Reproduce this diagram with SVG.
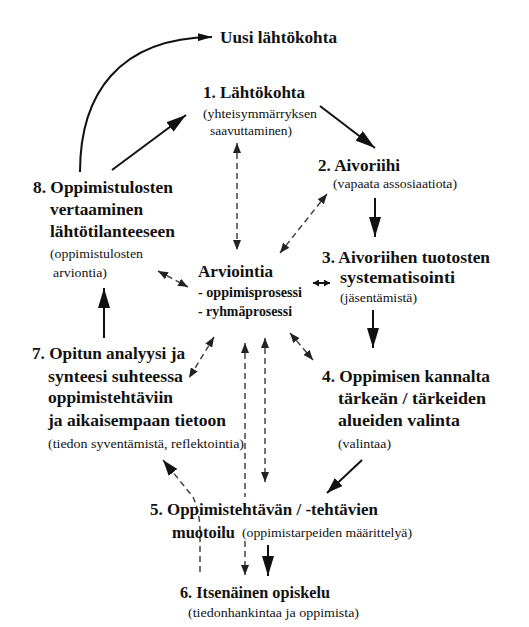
<svg xmlns="http://www.w3.org/2000/svg" width="529" height="627" viewBox="0 0 529 627" font-family="'Liberation Serif', 'DejaVu Serif', serif">
<defs>
<style>
text{font-family:'Liberation Serif','DejaVu Serif',serif;fill:#111;}
.b{font-weight:bold;font-size:17px;}
.bs{font-weight:bold;font-size:14px;}
.r{font-size:13.5px;}
.sol{stroke:#111;stroke-width:2;fill:none;}
.dsh{stroke:#444;stroke-width:1.5;fill:none;stroke-dasharray:6 4;}
</style>
<marker id="big" markerUnits="userSpaceOnUse" markerWidth="20" markerHeight="12" refX="20" refY="6" orient="auto"><path d="M0,0 L20,6 L0,12 z" fill="#111"/></marker>
<marker id="med" markerUnits="userSpaceOnUse" markerWidth="16" markerHeight="11" refX="16" refY="5.5" orient="auto"><path d="M0,0 L16,5.5 L0,11 z" fill="#111"/></marker>
<marker id="sm" markerUnits="userSpaceOnUse" markerWidth="14" markerHeight="8" refX="14" refY="4" orient="auto"><path d="M0,0 L14,4 L0,8 z" fill="#111"/></marker>
<marker id="dh" markerUnits="userSpaceOnUse" markerWidth="10" markerHeight="8" refX="10" refY="4" orient="auto-start-reverse"><path d="M0,0 L10,4 L0,8 z" fill="#222"/></marker>
<marker id="tiny" markerUnits="userSpaceOnUse" markerWidth="6" markerHeight="7" refX="6" refY="3.5" orient="auto-start-reverse"><path d="M0,0 L6,3.5 L0,7 z" fill="#111"/></marker>
<marker id="dbig" markerUnits="userSpaceOnUse" markerWidth="16" markerHeight="11" refX="16" refY="5.5" orient="auto"><path d="M0,0 L16,5.5 L0,11 z" fill="#111"/></marker>
</defs>
<rect width="529" height="627" fill="#fff"/>
<g id="connectors">
<path class="sol" d="M80,172 C80,95 118,38 212,37" marker-end="url(#sm)"/>
<line class="sol" x1="112" y1="170" x2="186" y2="115" marker-end="url(#big)"/>
<line class="sol" x1="320" y1="106" x2="375" y2="148" marker-end="url(#big)"/>
<line class="sol" x1="375" y1="198" x2="375" y2="237" marker-end="url(#big)"/>
<line class="sol" x1="373" y1="310" x2="373" y2="348" marker-end="url(#big)"/>
<line class="sol" x1="362" y1="460" x2="327" y2="493" marker-end="url(#med)"/>
<line class="sol" x1="268" y1="545" x2="268" y2="576" stroke-width="3" marker-end="url(#big)"/>
<line class="sol" x1="104" y1="338" x2="104" y2="288" marker-end="url(#big)"/>
<line class="dsh" x1="237" y1="143" x2="237" y2="250" marker-start="url(#dh)" marker-end="url(#dh)"/>
<line class="dsh" x1="327" y1="194" x2="280" y2="253" marker-start="url(#dh)" marker-end="url(#dh)"/>
<line class="dsh" x1="158" y1="271" x2="188" y2="287" marker-start="url(#dh)" marker-end="url(#dh)"/>
<line class="sol" x1="313" y1="283" x2="330" y2="283" stroke-width="3" marker-start="url(#tiny)" marker-end="url(#tiny)"/>
<line class="dsh" x1="214" y1="337" x2="189" y2="378" marker-start="url(#dh)" marker-end="url(#dh)"/>
<line class="dsh" x1="290" y1="333" x2="313" y2="360" marker-start="url(#dh)" marker-end="url(#dh)"/>
<path class="dsh" d="M245,343 V497 M245,541 V575" marker-start="url(#dh)" marker-end="url(#dh)"/>
<line class="dsh" x1="265" y1="338" x2="265" y2="482" marker-start="url(#dh)" marker-end="url(#dh)"/>
<path class="dsh" d="M200,572 L200,528 Q199,510 193,497 L163,460" stroke="#111" marker-end="url(#dbig)"/>
</g>
<g id="node-uusi"><text class="b" x="220" y="43" textLength="117" lengthAdjust="spacingAndGlyphs">Uusi lähtökohta</text></g>
<g id="node-1">
<text class="b" x="203" y="98" textLength="102" lengthAdjust="spacingAndGlyphs">1. Lähtökohta</text>
<text class="r" x="203" y="118" textLength="114" lengthAdjust="spacingAndGlyphs">(yhteisymmärryksen</text>
<text class="r" x="210" y="135" textLength="82" lengthAdjust="spacingAndGlyphs">saavuttaminen)</text>
</g>
<g id="node-2">
<text class="b" x="318" y="171" textLength="82" lengthAdjust="spacingAndGlyphs">2. Aivoriihi</text>
<text class="r" x="333" y="188" textLength="124" lengthAdjust="spacingAndGlyphs">(vapaata assosiaatiota)</text>
</g>
<g id="node-3">
<text class="b" x="322" y="263" textLength="168" lengthAdjust="spacingAndGlyphs">3. Aivoriihen tuotosten</text>
<text class="b" x="340" y="283" textLength="115" lengthAdjust="spacingAndGlyphs">systematisointi</text>
<text class="r" x="340" y="302" textLength="77" lengthAdjust="spacingAndGlyphs">(jäsentämistä)</text>
</g>
<g id="node-4">
<text class="b" x="322" y="382" textLength="168" lengthAdjust="spacingAndGlyphs">4. Oppimisen kannalta</text>
<text class="b" x="338" y="404" textLength="148" lengthAdjust="spacingAndGlyphs">tärkeän  / tärkeiden</text>
<text class="b" x="338" y="426" textLength="122" lengthAdjust="spacingAndGlyphs">alueiden  valinta</text>
<text class="r" x="338" y="448" textLength="53" lengthAdjust="spacingAndGlyphs">(valintaa)</text>
</g>
<g id="node-5">
<text class="b" x="150" y="515" textLength="228" lengthAdjust="spacingAndGlyphs">5. Oppimistehtävän  / -tehtävien</text>
<text class="b" x="172" y="538" textLength="63" lengthAdjust="spacingAndGlyphs">muotoilu</text>
<text class="r" x="242" y="537" textLength="170" lengthAdjust="spacingAndGlyphs">(oppimistarpeiden määrittelyä)</text>
</g>
<g id="node-6">
<text class="b" x="180" y="598" textLength="150" lengthAdjust="spacingAndGlyphs">6. Itsenäinen opiskelu</text>
<text class="r" x="188" y="617" textLength="171" lengthAdjust="spacingAndGlyphs">(tiedonhankintaa ja oppimista)</text>
</g>
<g id="node-7">
<text class="b" x="32" y="359" textLength="153" lengthAdjust="spacingAndGlyphs">7. Opitun analyysi ja</text>
<text class="b" x="48" y="382" textLength="135" lengthAdjust="spacingAndGlyphs">synteesi  suhteessa</text>
<text class="b" x="48" y="403" textLength="125" lengthAdjust="spacingAndGlyphs">oppimistehtäviin</text>
<text class="b" x="48" y="426" textLength="178" lengthAdjust="spacingAndGlyphs">ja aikaisempaan tietoon</text>
<text class="r" x="48" y="448" textLength="196" lengthAdjust="spacingAndGlyphs">(tiedon syventämistä, reflektointia)</text>
</g>
<g id="node-8">
<text class="b" x="33" y="193" textLength="140" lengthAdjust="spacingAndGlyphs">8. Oppimistulosten</text>
<text class="b" x="50" y="215" textLength="93" lengthAdjust="spacingAndGlyphs">vertaaminen</text>
<text class="b" x="50" y="237" textLength="125" lengthAdjust="spacingAndGlyphs">lähtötilanteeseen</text>
<text class="r" x="50" y="258" textLength="93" lengthAdjust="spacingAndGlyphs">(oppimistulosten</text>
<text class="r" x="53" y="277" textLength="54" lengthAdjust="spacingAndGlyphs">arviontia)</text>
</g>
<g id="node-arviointia">
<text class="b" x="198" y="277" textLength="75" lengthAdjust="spacingAndGlyphs">Arviointia</text>
<text class="bs" x="198" y="297" textLength="104" lengthAdjust="spacingAndGlyphs">- oppimisprosessi</text>
<text class="bs" x="198" y="316" textLength="94" lengthAdjust="spacingAndGlyphs">- ryhmäprosessi</text>
</g>
</svg>
